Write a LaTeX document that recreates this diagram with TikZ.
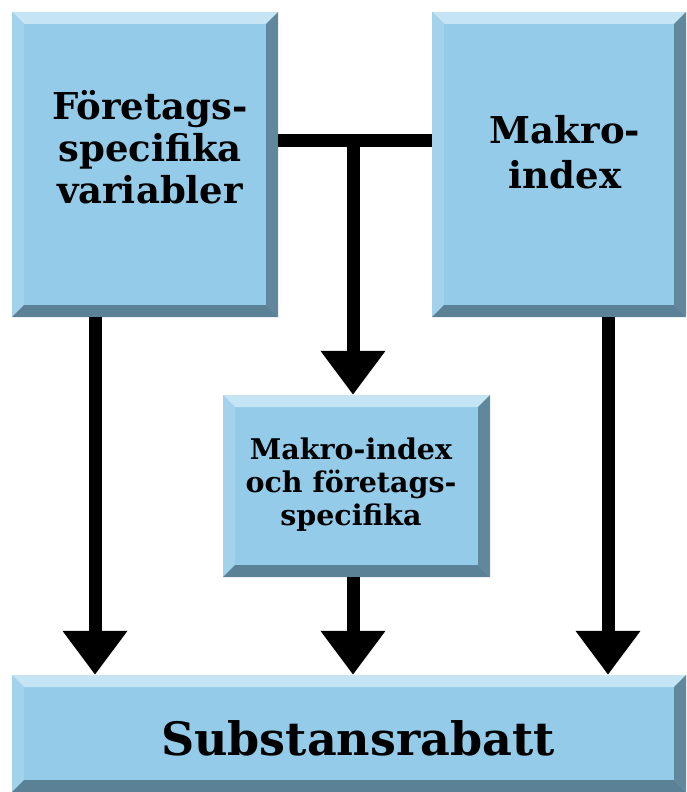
\documentclass[tikz,border=0pt]{standalone}
\usepackage{fontspec}
\setmainfont{DejaVu Serif}
\usepackage{tikz}
\usetikzlibrary{positioning,calc,arrows.meta}
\definecolor{BoxFace}{HTML}{93CBE9}
\definecolor{BevelTop}{HTML}{C5E4F4}
\definecolor{BevelLeft}{HTML}{A2D2EC}
\definecolor{BevelRight}{HTML}{60879C}
\definecolor{BevelBottom}{HTML}{5B8196}
\newcommand{\bev}{12pt}
\tikzset{
  bevelbox/.style={fill=BoxFace, inner sep=0pt,
    path picture={
      \coordinate (nw) at (path picture bounding box.north west);
      \coordinate (ne) at (path picture bounding box.north east);
      \coordinate (sw) at (path picture bounding box.south west);
      \coordinate (se) at (path picture bounding box.south east);
      \fill[BevelTop] (nw) -- (ne) -- ($(ne)+(-\bev,-\bev)$) -- ($(nw)+(\bev,-\bev)$) -- cycle;
      \fill[BevelLeft] (nw) -- ($(nw)+(\bev,-\bev)$) -- ($(sw)+(\bev,\bev)$) -- (sw) -- cycle;
      \fill[BevelRight] (ne) -- (se) -- ($(se)+(-\bev,\bev)$) -- ($(ne)+(-\bev,-\bev)$) -- cycle;
      \fill[BevelBottom] (sw) -- (se) -- ($(se)+(-\bev,\bev)$) -- ($(sw)+(\bev,\bev)$) -- cycle;
    }},
  boxtext/.style={align=center, font=\bfseries, inner sep=0pt},
  arr/.style={line width=13pt, -{Triangle[width=62pt,length=44pt]}},
  bar/.style={line width=13pt}
}

\begin{document}
\begin{tikzpicture}[x=1pt,y=-1pt]
  \useasboundingbox (0,0) rectangle (686,792);

  % boxes
  \node[bevelbox, minimum width=266pt, minimum height=305pt] (firm) at (145,164.5) {};
  \node[bevelbox, minimum width=254pt, minimum height=305pt] (macro) at (559,164.5) {};
  \node[bevelbox, minimum width=267pt, minimum height=182pt] (mixed) at (356.5,486) {};
  \node[bevelbox, minimum width=674pt, minimum height=117pt] (rebate) at (349,733.5) {};

  % texts
  \node[boxtext, font=\bfseries\fontsize{37}{42}\selectfont] (firmtext) at (150,147) {Företags-\\specifika\\variabler};
  \node[boxtext, font=\bfseries\fontsize{37}{45}\selectfont] (macrotext) at (565,152) {Makro-\\index};
  \node[boxtext, font=\bfseries\fontsize{28.5}{33}\selectfont] (mixedtext) at (351,485) {Makro-index\\och företags-\\specifika};
  \node[boxtext, font=\bfseries\fontsize{46}{50}\selectfont] (rebatetext) at (358,738) {Substansrabatt};

  % connectors
  \coordinate (joint) at (353,140);
  \coordinate (leftline) at (95,0);
  \coordinate (rightline) at (608,0);
  \draw[bar] (firm.east |- joint) -- (macro.west |- joint);
  \draw[arr] (joint) -- (mixed.north -| joint);
  \draw[arr] (mixed.south -| joint) -- (rebate.north -| joint);
  \draw[arr] (firm.south -| leftline) -- (rebate.north -| leftline);
  \draw[arr] (macro.south -| rightline) -- (rebate.north -| rightline);
\end{tikzpicture}
\end{document}
